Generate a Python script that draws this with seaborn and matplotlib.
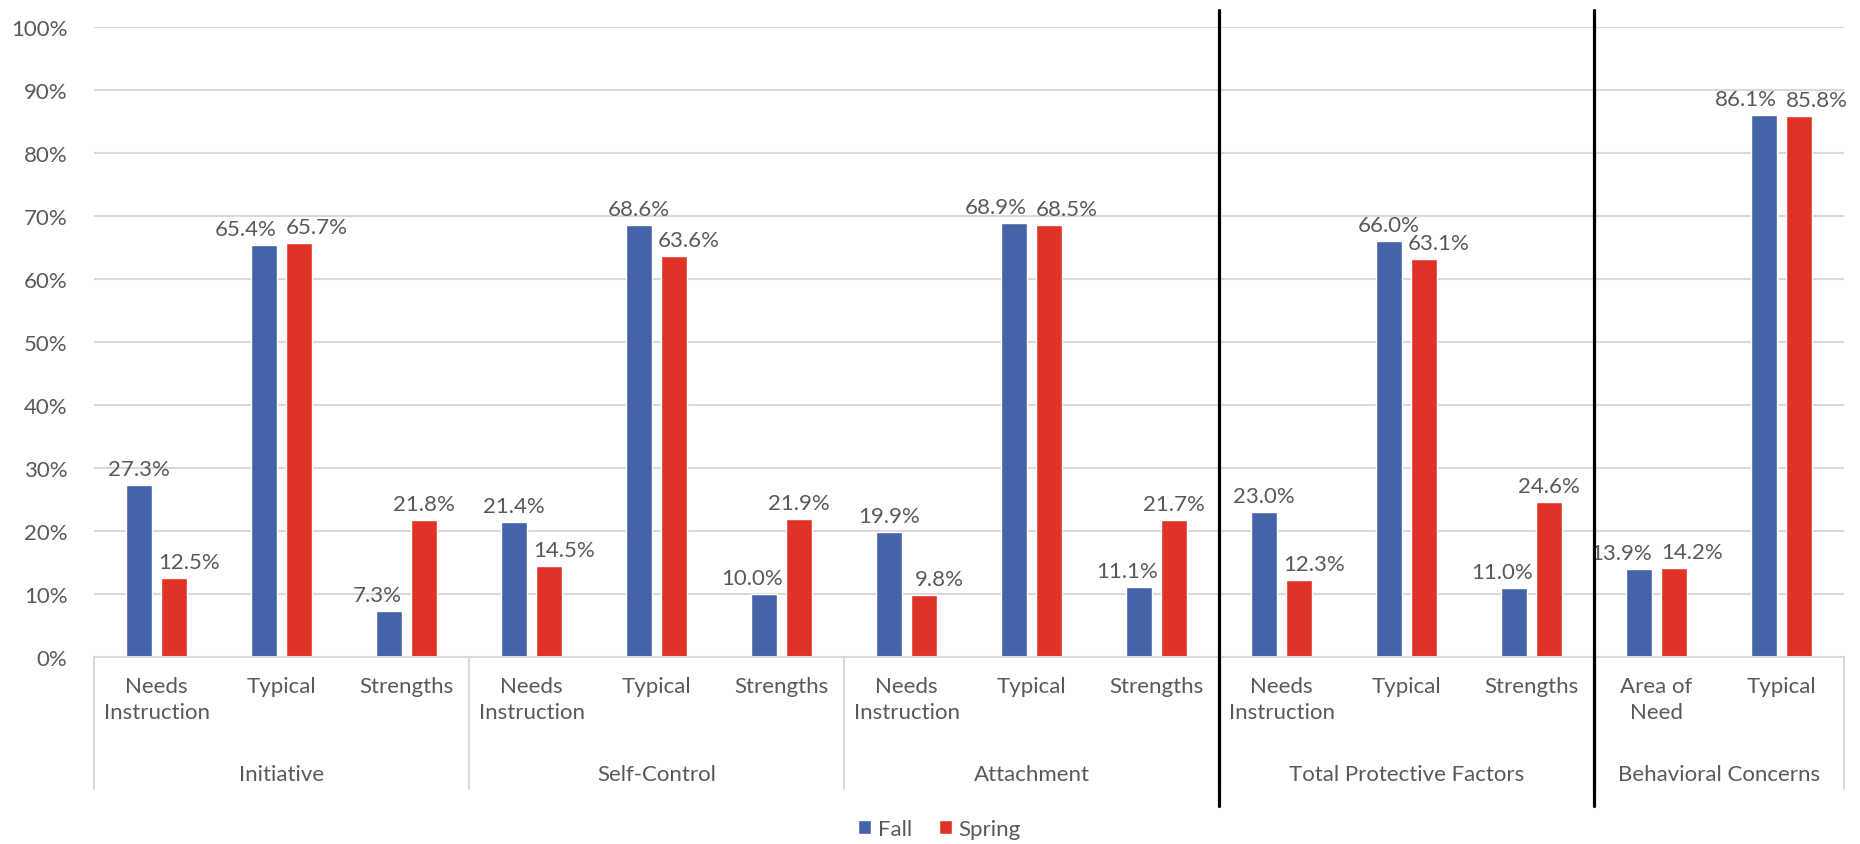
import numpy as np
import pandas as pd
import matplotlib
matplotlib.use("Agg")
import matplotlib.pyplot as plt
import matplotlib.transforms as mtransforms
from matplotlib.patches import Patch
import seaborn as sns

# ---- data ----
groups = ["Initiative", "Self-Control", "Attachment",
          "Total Protective Factors", "Behavioral Concerns"]
group_sizes = [3, 3, 3, 3, 2]
categories = ["Needs\nInstruction", "Typical", "Strengths",
              "Needs\nInstruction", "Typical", "Strengths",
              "Needs\nInstruction", "Typical", "Strengths",
              "Needs\nInstruction", "Typical", "Strengths",
              "Area of\nNeed", "Typical"]
fall = [27.3, 65.4, 7.3, 21.4, 68.6, 10.0, 19.9, 68.9, 11.1, 23.0, 66.0, 11.0, 13.9, 86.1]
spring = [12.5, 65.7, 21.8, 14.5, 63.6, 21.9, 9.8, 68.5, 21.7, 12.3, 63.1, 24.6, 14.2, 85.8]
seasons = ["Fall", "Spring"]
y_ticks = list(range(0, 101, 10))

colors = {"Fall": "#4563A8", "Spring": "#E03328"}
text_color = "#595959"
grid_color = "#D9D9D9"

sns.set_theme(style="white")
plt.rcParams["font.family"] = ["Lato", "DejaVu Sans"]

keys = [f"{i:02d}" for i in range(len(categories))]
df = pd.DataFrame({
    "key": keys * 2,
    "season": ["Fall"] * len(keys) + ["Spring"] * len(keys),
    "value": fall + spring,
})

fig = plt.figure(figsize=(18.6, 8.45), dpi=100)
ax = fig.add_axes([94 / 1860, 1 - 658 / 845, 1750 / 1860, 630 / 845])

sns.barplot(data=df, x="key", y="value", hue="season", order=keys,
            hue_order=seasons, palette=colors, width=0.56, gap=0.23,
            saturation=1, ax=ax, legend=False)

ax.set_xlim(-0.5, len(keys) - 0.5)
ax.set_ylim(0, 100)
ax.set_yticks(y_ticks)
ax.set_yticklabels([f"{t}%" for t in y_ticks])
ax.yaxis.grid(True, color=grid_color, linewidth=1.5)
ax.set_axisbelow(True)
for s in ["top", "right", "left"]:
    ax.spines[s].set_visible(False)
ax.spines["bottom"].set_color(grid_color)
ax.spines["bottom"].set_linewidth(1.5)
ax.set_xlabel("")
ax.set_ylabel("")
ax.set_xticks(range(len(keys)))
ax.set_xticklabels(categories)
ax.tick_params(axis="x", length=0, pad=14, labelsize=16, labelcolor=text_color)
ax.tick_params(axis="y", length=0, pad=19, labelsize=16, labelcolor=text_color)
for lbl in ax.get_xticklabels():
    lbl.set_linespacing(1.35)

# data labels
for ci, (season, vals, other) in enumerate([("Fall", fall, spring), ("Spring", spring, fall)]):
    for bar, v, o in zip(ax.containers[ci], vals, other):
        cx = bar.get_x() + bar.get_width() / 2
        dx = 0
        if abs(v - o) < 1.0:
            dx = -18 if season == "Fall" else 18
        elif season == "Spring" and v < o:
            dx = 15
        elif season == "Fall" and v < o:
            dx = -12
        ax.annotate(f"{v:.1f}%", xy=(cx, v), xytext=(dx, 16),
                    textcoords="offset pixels", ha="center", va="center",
                    fontsize=16, color=text_color)

# group separators & labels
trans = mtransforms.blended_transform_factory(ax.transData, ax.transAxes)
start = 0
bounds = [-0.5]
for g, n in zip(groups, group_sizes):
    mid = start + (n - 1) / 2
    ax.text(mid, -0.186, g, transform=trans, ha="center", va="center",
            fontsize=16, color=text_color)
    start += n
    bounds.append(start - 0.5)
for b in bounds:
    ax.plot([b, b], [0, -0.2095], transform=trans, color=grid_color,
            linewidth=1.5, clip_on=False)

# black dividers
for b in [bounds[3], bounds[4]]:
    ax.plot([b, b], [-0.2365, 1.027], transform=trans, color="black",
            linewidth=2.3, clip_on=False, zorder=5)

handles = [Patch(facecolor=colors[s], label=s) for s in seasons]
leg = fig.legend(handles=handles, loc="center", bbox_to_anchor=(0.505, 1 - 830 / 845),
                 ncol=2, frameon=False, fontsize=16, handlelength=0.6,
                 handleheight=0.6, handletextpad=0.3, columnspacing=1.2)
for t in leg.get_texts():
    t.set_color(text_color)

fig.savefig("out.png", dpi=100)
